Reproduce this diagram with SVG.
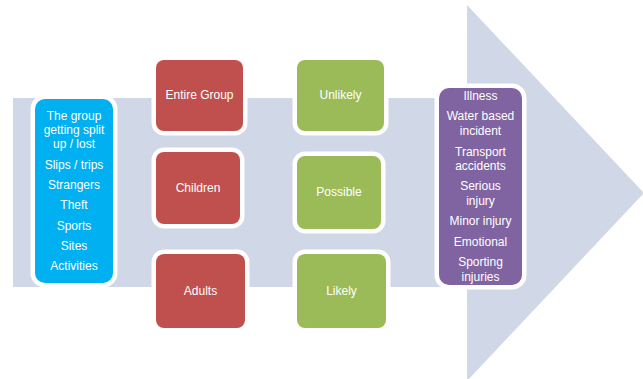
<svg xmlns="http://www.w3.org/2000/svg" width="643" height="379" viewBox="0 0 643 379">
<style>
.box{stroke:#fff;stroke-width:9;paint-order:stroke}
.red{fill:#C0504D}.green{fill:#9BBB59}.blue{fill:#00B0F0}.purple{fill:#8064A2}
text{font-family:"Liberation Sans",Arial,sans-serif;font-size:12px;fill:#fff;text-anchor:middle}
</style>
<rect width="643" height="379" fill="#fff"/>
<g id="arrow">
<polygon points="13,98 467,98 467,5 644,193 467,381 467,287 13,287" fill="#D0D7E7"/>
</g>
<g id="hazards">
<rect class="box blue" x="35" y="99" width="78" height="184" rx="10"/>
<text x="74" y="120">The group</text>
<text x="74" y="134">getting split</text>
<text x="74" y="148">up / lost</text>
<text x="74" y="169">Slips / trips</text>
<text x="74" y="189">Strangers</text>
<text x="74" y="209">Theft</text>
<text x="74" y="230">Sports</text>
<text x="74" y="250">Sites</text>
<text x="74" y="270">Activities</text>
</g>
<g id="entire-group"><rect class="box red" x="156" y="60" width="87" height="71" rx="8"/><text x="199.5" y="99">Entire Group</text></g>
<g id="children"><rect class="box red" x="156" y="152" width="84" height="72" rx="8"/><text x="198" y="192">Children</text></g>
<g id="adults"><rect class="box red" x="156" y="254" width="89" height="74" rx="8"/><text x="200.5" y="295">Adults</text></g>
<g id="unlikely"><rect class="box green" x="297" y="60" width="87" height="71" rx="8"/><text x="340.5" y="99">Unlikely</text></g>
<g id="possible"><rect class="box green" x="297" y="156" width="84" height="73" rx="8"/><text x="339" y="196">Possible</text></g>
<g id="likely"><rect class="box green" x="297" y="254" width="89" height="74" rx="8"/><text x="341.5" y="295">Likely</text></g>
<g id="outcomes">
<rect class="box purple" x="439" y="88" width="83" height="197" rx="10"/>
<text x="480.5" y="100">Illness</text>
<text x="480.5" y="120">Water based</text>
<text x="480.5" y="135">incident</text>
<text x="480.5" y="156">Transport</text>
<text x="480.5" y="170">accidents</text>
<text x="480.5" y="190">Serious</text>
<text x="480.5" y="205">injury</text>
<text x="480.5" y="225">Minor injury</text>
<text x="480.5" y="246">Emotional</text>
<text x="480.5" y="266">Sporting</text>
<text x="480.5" y="281">injuries</text>
</g>
<g id="connectors"></g>
</svg>
